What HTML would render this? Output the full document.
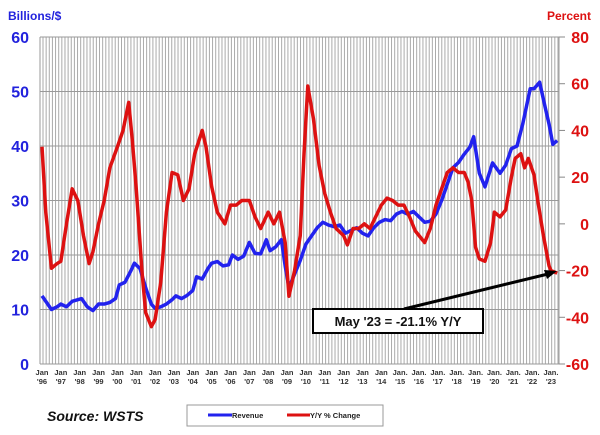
<!DOCTYPE html>
<html><head><meta charset="utf-8"><style>
body{margin:0;background:#fff;}
svg{display:block;font-family:"Liberation Sans",Arial,sans-serif;}
</style></head><body>
<svg id="chart" width="600" height="435" viewBox="0 0 600 435">
<g id="grid"></g>
<g id="ticks"></g>
<g id="series"></g>
<text x="8" y="20" font-size="12" font-weight="bold" fill="#2222dd">Billions/$</text>
<text x="591" y="20" font-size="12" font-weight="bold" fill="#dd1111" text-anchor="end">Percent</text>
<text x="47" y="421" font-size="14" font-weight="bold" font-style="italic" fill="#111">Source: WSTS</text>
<g>
<rect x="187" y="405" width="196" height="21" fill="#fff" stroke="#999"/>
<line x1="208" y1="415" x2="232" y2="415" stroke="#2222ee" stroke-width="3"/>
<text x="232" y="418" font-size="7.5" font-weight="bold" fill="#222">Revenue</text>
<line x1="287" y1="415" x2="310" y2="415" stroke="#dd1111" stroke-width="3"/>
<text x="310" y="418" font-size="7.5" font-weight="bold" fill="#222">Y/Y % Change</text>
</g>
<g>
<line x1="404" y1="309" x2="548" y2="274" stroke="#000" stroke-width="3"/>
<polygon points="557,271 544,270 547,279" fill="#000"/>
<rect x="313" y="309" width="170" height="24" fill="#fff" stroke="#000" stroke-width="2"/>
<text x="398" y="326" font-size="13" font-weight="bold" text-anchor="middle" fill="#111">May '23 = -21.1% Y/Y</text>
</g>
</svg>
<script>
const revYears=[1996.0,1996.3,1996.5,1996.8,1997.0,1997.3,1997.6,1997.9,1998.1,1998.4,1998.7,1999.0,1999.3,1999.6,1999.9,2000.1,2000.4,2000.7,2000.9,2001.2,2001.5,2001.8,2002.0,2002.3,2002.6,2002.9,2003.1,2003.4,2003.7,2004.0,2004.2,2004.5,2004.8,2005.0,2005.3,2005.6,2005.9,2006.1,2006.4,2006.7,2007.0,2007.3,2007.6,2007.9,2008.1,2008.4,2008.7,2008.9,2009.1,2009.4,2009.7,2010.0,2010.3,2010.6,2010.9,2011.2,2011.5,2011.8,2012.1,2012.4,2012.7,2013.0,2013.3,2013.6,2013.9,2014.2,2014.5,2014.8,2015.1,2015.4,2015.7,2016.0,2016.3,2016.6,2016.9,2017.2,2017.5,2017.8,2018.1,2018.4,2018.7,2018.9,2019.2,2019.5,2019.9,2020.3,2020.6,2020.9,2021.2,2021.5,2021.9,2022.1,2022.4,2022.7,2022.9,2023.1,2023.33];
const revVals=[12.5,11,10,10.5,11,10.5,11.5,11.8,12,10.5,9.8,11,11,11.3,12,14.5,15,17,18.5,17.5,14,11,10.2,10.5,11,11.8,12.5,12,12.6,13.5,16,15.6,17.5,18.5,18.8,18,18.2,20,19.2,19.8,22.3,20.3,20.2,22.8,20.8,21.5,22.8,18,14,16.5,19,22,23.5,25,26,25.5,25.2,25.5,24,24.5,25,24,23.5,25,26,26.5,26.3,27.5,28,27.5,28,27,26,26.2,27.5,30,33,36,37,38.5,39.8,41.7,35,32.5,36.9,35,36.5,39.5,40,44,50.5,50.5,51.7,47,44,40.3,41];
const yoyYears=[1996.0,1996.2,1996.5,1996.8,1997.0,1997.3,1997.6,1997.9,1998.2,1998.5,1998.7,1999.0,1999.3,1999.6,2000.0,2000.3,2000.6,2000.8,2001.0,2001.3,2001.5,2001.8,2002.0,2002.3,2002.6,2002.9,2003.2,2003.5,2003.8,2004.1,2004.5,2004.7,2005.0,2005.3,2005.7,2006.0,2006.3,2006.6,2007.0,2007.3,2007.6,2008.0,2008.3,2008.6,2008.9,2009.1,2009.4,2009.7,2009.9,2010.1,2010.4,2010.7,2011.0,2011.3,2011.6,2012.0,2012.2,2012.5,2012.8,2013.1,2013.4,2013.7,2014.0,2014.3,2014.6,2014.9,2015.2,2015.5,2015.8,2016.1,2016.3,2016.6,2016.9,2017.2,2017.5,2017.8,2018.1,2018.4,2018.6,2018.8,2019.0,2019.2,2019.5,2019.8,2020.0,2020.3,2020.6,2020.9,2021.1,2021.4,2021.6,2021.8,2022.1,2022.3,2022.6,2022.9,2023.0,2023.33];
const yoyVals=[33,5,-19,-17,-16,0,15,10,-5,-17,-12,0,10,24,33,40,52,35,15,-20,-38,-44,-41,-25,5,22,21,10,15,30,40,33,16,5,0,8,8,10,10,3,-2,5,0,5,-8,-31,-20,-5,30,59,45,25,13,5,-2,-5,-9,-2,-2,0,-2,3,8,11,10,8,8,3,-3,-6,-8,-2,8,15,22,24,22,22,18,10,-10,-15,-16,-8,5,3,6,20,28,30,24,28,21,10,-5,-18,-20,-21.1];
const leftTicks=[0,10,20,30,40,50,60];
const rightTicks=[-60,-40,-20,0,20,40,60,80];
const xTickYears=[1996,1997,1998,1999,2000,2001,2002,2003,2004,2005,2006,2007,2008,2009,2010,2011,2012,2013,2014,2015,2016,2017,2018,2019,2020,2021,2022,2023];
const X0=40,X1=559,Y0=364,Y1=37;
const xs=y=>42+(y-1996)*18.85;
const yl=v=>Y0-(v-0)/60*(Y0-Y1);
const yr=v=>Y0-(v+60)/140*(Y0-Y1);
const NS="http://www.w3.org/2000/svg";
function mk(p,t,a){const e=document.createElementNS(NS,t);for(const k in a)e.setAttribute(k,a[k]);p.appendChild(e);return e;}
const grid=document.getElementById('grid'),ticks=document.getElementById('ticks'),series=document.getElementById('series');
for(let x=X0+3;x<X1;x+=3.14){const l=mk(grid,'line',{x1:x,y1:Y1,x2:x,y2:Y0,stroke:'#aaa','stroke-width':1});

}
leftTicks.forEach(v=>{const y=yl(v);
const l=mk(grid,'line',{x1:X0,y1:y,x2:X1,y2:y,stroke:'#999','stroke-width':1});


const t=mk(ticks,'text',{x:29,y:y+6,'font-size':16,'font-weight':'bold',fill:'#2222dd','text-anchor':'end'});t.textContent=v;

});
rightTicks.forEach(v=>{const y=yr(v);
const m=mk(ticks,'line',{x1:X1,y1:y,x2:X1+6,y2:y,stroke:'#888'});


const t=mk(ticks,'text',{x:589,y:y+6,'font-size':16,'font-weight':'bold',fill:'#dd1111','text-anchor':'end'});t.textContent=v;

});
mk(grid,'line',{x1:X0,y1:Y1,x2:X0,y2:Y0,stroke:'#999'});
mk(grid,'line',{x1:X1,y1:Y1,x2:X1,y2:Y0,stroke:'#999'});
xTickYears.forEach(yv=>{const x=xs(yv);const dot=yv>=2015;
const t=mk(ticks,'text',{x:x,y:375,'font-size':7.5,'font-weight':'bold',fill:'#333','text-anchor':'middle'});
t.textContent=dot?'Jan.':'Jan';


const t2=mk(ticks,'text',{x:x,y:384,'font-size':7.5,'font-weight':'bold',fill:'#333','text-anchor':'middle'});
t2.textContent="'"+String(yv).slice(2);

});
const rp=mk(series,'polyline',{points:revYears.map((y,i)=>xs(y)+','+yl(revVals[i])).join(' '),fill:'none',stroke:'#2222ee','stroke-width':3.5,'stroke-linejoin':'round'});


const yp=mk(series,'polyline',{points:yoyYears.map((y,i)=>xs(y)+','+yr(yoyVals[i])).join(' '),fill:'none',stroke:'#dd1111','stroke-width':3.5,'stroke-linejoin':'round'});


</script>
</body></html>
